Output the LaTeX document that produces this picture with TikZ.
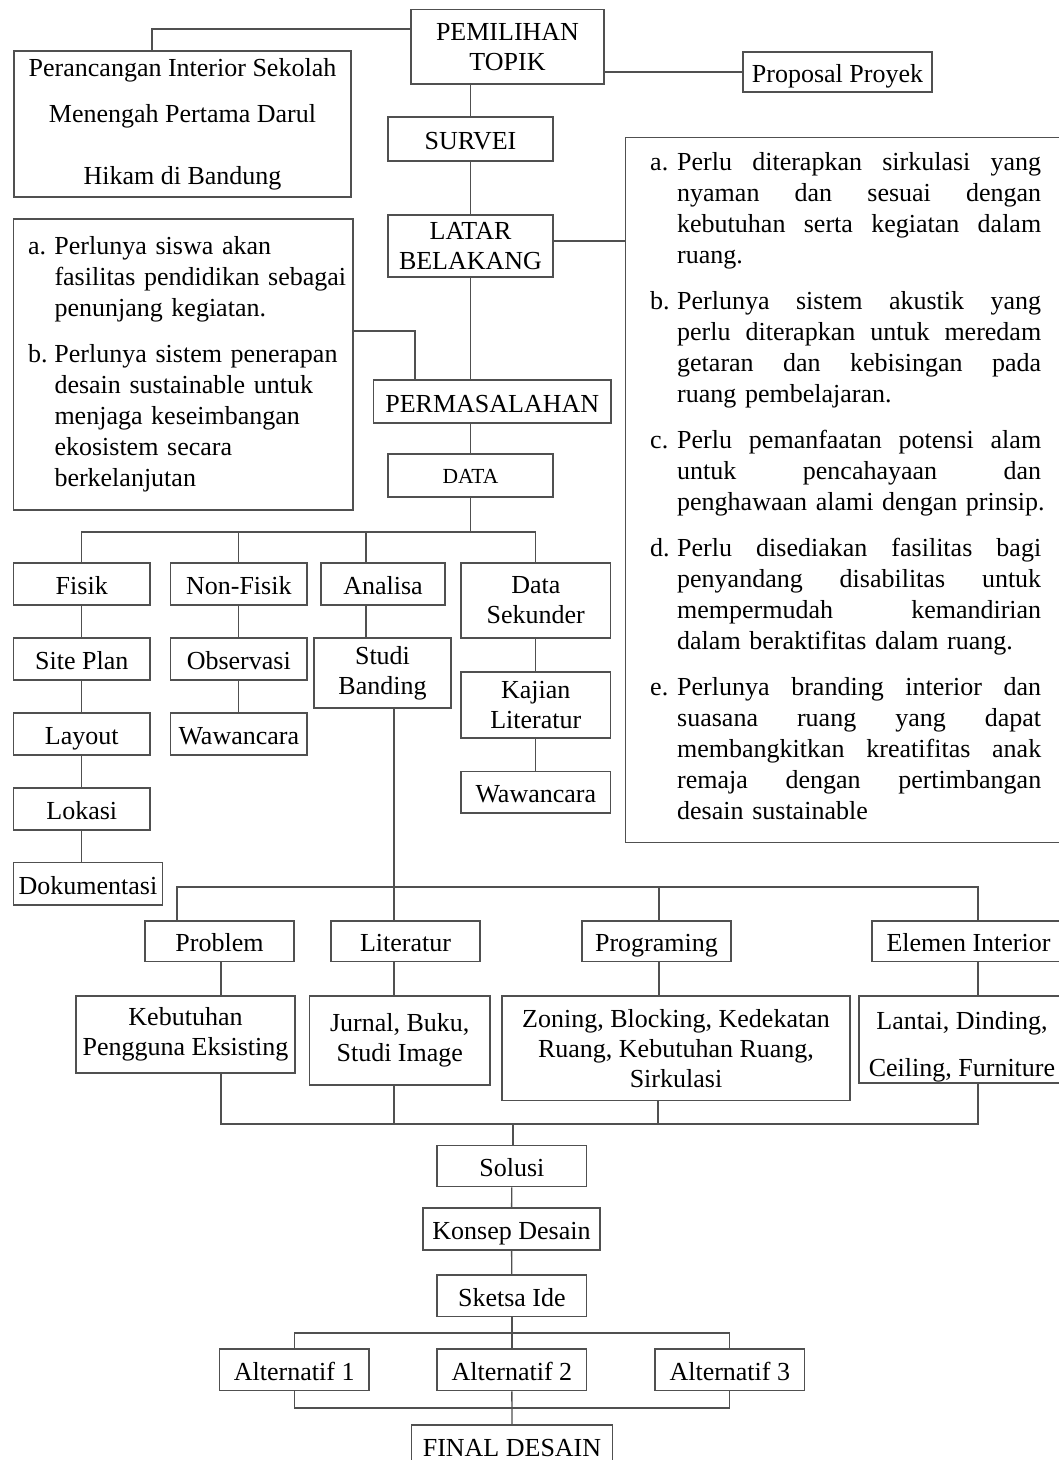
\documentclass[tikz,border=0pt]{standalone}
\usepackage{fontspec}
\setmainfont{Liberation Serif}
\definecolor{ln}{RGB}{80,80,80}
\newcommand\fsz{\fontsize{26pt}{30pt}\selectfont}
\newcommand\fsm{\fontsize{21.5pt}{25pt}\selectfont}
\newcommand\ptxt{\fontsize{26pt}{31pt}\selectfont\parindent=0pt\parskip=0pt}
\newcommand\hs{\hfill}
% right panel lines (justified lines are boxes of fixed width)
\newcommand\ritm[2]{\par\noindent\hbox to 27pt{#1\hss}\hbox to 364pt{#2}}
\newcommand\rjst[1]{\par\noindent\hspace*{27pt}\hbox to 364pt{#1}}
\newcommand\rlst[1]{\par\noindent\hspace*{27pt}\hbox{#1}}
% left panel lines
\newcommand\litm[2]{\par\noindent\hbox to 26.5pt{#1\hss}\hbox{#2}}
\newcommand\llin[1]{\par\noindent\hspace*{26.5pt}\hbox{#1}}
\newcommand\pgap{\par\vspace{15pt}}
\tikzset{
  bx/.style={draw=ln, line width=1.3pt, inner sep=0pt, align=center, font=\fsz, text=black},
  sl/.style={text height=21pt, text depth=0pt},
  wh/.style 2 args={minimum width=#1pt, minimum height=#2pt},
  cn/.style={draw=ln, line width=1.3pt},
  ptext/.style={anchor=north west, inner sep=0pt, font=\ptxt, text=black}
}
\begin{document}
\begin{tikzpicture}[x=1pt,y=-1pt]
\useasboundingbox (0,0) rectangle (1059,1460);
\fill[white] (0,0) rectangle (1059,1460);

% top part
\node[bx, wh={193}{74.5}] (topik) at (507.5,46.75) {PEMILIHAN\\TOPIK};
\node[bx, sl, wh={189}{40}] (proposal) at (837.5,72) {Proposal Proyek};
\node[bx, wh={337}{146}] (peran) at (182.5,124) {Perancangan Interior Sekolah\\[16pt]Menengah Pertama Darul\\[32pt]Hikam di Bandung};
\node[bx, sl, wh={165}{44}] (survei) at (470.5,139) {SURVEI};
\node[bx, wh={165}{62}] (latar) at (470.5,246) {LATAR\\BELAKANG};
\node[bx, sl, wh={237.5}{43}] (perm) at (492.25,401.5) {PERMASALAHAN};
\node[bx, wh={165}{43}, font=\fsm, text height=15.6pt, text depth=0pt] (data) at (470.5,475.5) {DATA};

% right panel
\node[bx, wh={440}{705}, anchor=north west] (rp) at (625,137) {};
\node[ptext, text width=391pt] (rptext) at (650,139) {%
\ritm{a.}{Perlu\hs{} diterapkan\hs{} sirkulasi\hs{} yang}
\rjst{nyaman\hs{} dan\hs{} sesuai\hs{} dengan}
\rjst{kebutuhan\hs{} serta\hs{} kegiatan\hs{} dalam}
\rlst{ruang.}\pgap
\ritm{b.}{Perlunya\hs{} sistem\hs{} akustik\hs{} yang}
\rjst{perlu\hs{} diterapkan\hs{} untuk\hs{} meredam}
\rjst{getaran\hs{} dan\hs{} kebisingan\hs{} pada}
\rlst{ruang pembelajaran.}\pgap
\ritm{c.}{Perlu\hs{} pemanfaatan\hs{} potensi\hs{} alam}
\rjst{untuk\hs{} pencahayaan\hs{} dan}
\rjst{penghawaan\hs{} alami\hs{} dengan\hs{} prinsip.}\pgap
\ritm{d.}{Perlu\hs{} disediakan\hs{} fasilitas\hs{} bagi}
\rjst{penyandang\hs{} disabilitas\hs{} untuk}
\rjst{mempermudah\hs{} kemandirian}
\rlst{dalam beraktifitas dalam ruang.}\pgap
\ritm{e.}{Perlunya\hs{} branding\hs{} interior\hs{} dan}
\rjst{suasana\hs{} ruang\hs{} yang\hs{} dapat}
\rjst{membangkitkan\hs{} kreatifitas\hs{} anak}
\rjst{remaja\hs{} dengan\hs{} pertimbangan}
\rlst{desain sustainable}};

% left panel
\node[bx, wh={339.5}{291}] (lp) at (183.25,364.5) {};
\node[ptext, text width=322pt] (lptext) at (27.8,223) {%
\litm{a.}{Perlunya siswa akan}
\llin{fasilitas pendidikan sebagai}
\llin{penunjang kegiatan.}\pgap
\litm{b.}{Perlunya sistem penerapan}
\llin{desain sustainable untuk}
\llin{menjaga keseimbangan}
\llin{ekosistem secara}
\llin{berkelanjutan}};

% data branches
\node[bx, sl, wh={136.5}{42}] (fisik) at (81.75,584) {Fisik};
\node[bx, sl, wh={136.4}{42}] (nonfisik) at (238.8,584) {Non-Fisik};
\node[bx, sl, wh={124}{42}] (analisa) at (383,584) {Analisa};
\node[bx, wh={149.6}{75}] (dsek) at (535.8,600.5) {Data\\Sekunder};
\node[bx, sl, wh={136.5}{42}] (siteplan) at (81.75,659) {Site Plan};
\node[bx, sl, wh={136.4}{42}] (observasi) at (238.8,659) {Observasi};
\node[bx, wh={137}{70}] (studi) at (382.5,673) {Studi\\Banding};
\node[bx, wh={149.6}{66}] (kajian) at (535.8,705) {Kajian\\Literatur};
\node[bx, sl, wh={136.5}{42}] (layout) at (81.75,734) {Layout};
\node[bx, sl, wh={136.4}{42}] (waw1) at (238.8,734) {Wawancara};
\node[bx, sl, wh={149.6}{41.3}] (waw2) at (535.8,792.4) {Wawancara};
\node[bx, sl, wh={136.5}{42}] (lokasi) at (81.75,809) {Lokasi};
\node[bx, sl, wh={148.9}{42.3}] (dok) at (87.95,883.85) {Dokumentasi};

% analysis row
\node[bx, sl, wh={149}{40.7}] (problem) at (219.5,941.35) {Problem};
\node[bx, sl, wh={149}{40.7}] (literatur) at (405.5,941.35) {Literatur};
\node[bx, sl, wh={149}{40.7}] (programing) at (656.5,941.35) {Programing};
\node[bx, sl, wh={193}{40.7}] (elemen) at (968.5,941.35) {Elemen Interior};
\node[bx, wh={219}{77}] (kebut) at (185.5,1034.5) {Kebutuhan\\Pengguna Eksisting};
\node[bx, wh={180.5}{89}] (jurnal) at (399.75,1040.5) {Jurnal, Buku,\\Studi Image};
\node[bx, wh={348}{104.7}] (zoning) at (676,1048.35) {Zoning, Blocking, Kedekatan\\Ruang, Kebutuhan Ruang,\\Sirkulasi};
\node[bx, wh={206}{87}] (lantai) at (962,1039.5) {\rule{0pt}{32pt}Lantai, Dinding,\\[17pt]Ceiling, Furniture};

% bottom
\node[bx, sl, wh={149.7}{41}] (solusi) at (511.85,1166.2) {Solusi};
\node[bx, sl, wh={177}{42}] (konsep) at (511.5,1229) {Konsep Desain};
\node[bx, sl, wh={149.7}{41.7}] (sketsa) at (511.85,1295.85) {Sketsa Ide};
\node[bx, sl, wh={149.5}{41.7}] (alt1) at (294.25,1369.85) {Alternatif 1};
\node[bx, sl, wh={149.7}{41.7}] (alt2) at (511.85,1369.85) {Alternatif 2};
\node[bx, sl, wh={149.6}{41.7}] (alt3) at (729.8,1369.85) {Alternatif 3};
\node[bx, sl, wh={200.6}{42}] (final) at (512,1446) {FINAL DESAIN};

% connectors - top
\draw[cn] (topik.west |- 0,29) -| ([xshift=-30.5pt]peran.north);
\draw[cn] (topik.east |- proposal.west) -- (proposal.west);
\draw[cn] (topik.south -| survei.north) -- (survei.north);
\draw[cn] (survei) -- (latar);
\draw[cn] (latar.south) -- (latar.south |- perm.north);
\draw[cn] (perm.south -| data.north) -- (data.north);
\draw[cn] (latar.east |- 0,241) -- (rp.west |- 0,241);
\draw[cn] (lp.east |- 0,331) -| (perm.north -| 415,0);

% connectors - data
\draw[cn] (data.south) -- (data.south |- 0,532);
\draw[cn] (fisik.north) -- (fisik.north |- 0,532) -- (dsek.north |- 0,532) -- (dsek.north);
\draw[cn] (nonfisik.north) -- (nonfisik.north |- 0,532);
\draw[cn] (analisa.north -| 366,0) -- (366,532);
\draw[cn] (fisik) -- (siteplan);
\draw[cn] (siteplan) -- (layout);
\draw[cn] (layout) -- (lokasi);
\draw[cn] (lokasi.south) -- (lokasi.south |- dok.north);
\draw[cn] (nonfisik) -- (observasi);
\draw[cn] (observasi) -- (waw1);
\draw[cn] (analisa.south -| 366,0) -- (studi.north -| 366,0);
\draw[cn] (dsek) -- (kajian);
\draw[cn] (kajian) -- (waw2);

% connectors - analysis
\draw[cn] (studi.south -| 394,0) -- (literatur.north -| 394,0);
\draw[cn] (problem.north -| 177,0) -- (177,887) -- (978,887) -- (elemen.north -| 978,0);
\draw[cn] (programing.north -| 659,0) -- (659,887);
\draw[cn] (problem.south -| 221,0) -- (kebut.north -| 221,0);
\draw[cn] (literatur.south -| 394,0) -- (jurnal.north -| 394,0);
\draw[cn] (programing.south -| 659,0) -- (zoning.north -| 659,0);
\draw[cn] (elemen.south -| 978,0) -- (lantai.north -| 978,0);
\draw[cn] (kebut.south -| 221,0) -- (221,1124) -- (978,1124) -- (lantai.south -| 978,0);
\draw[cn] (jurnal.south -| 394,0) -- (394,1124);
\draw[cn] (zoning.south -| 658,0) -- (658,1124);
\draw[cn] (solusi.north -| 513,0) -- (513,1124);

% connectors - bottom
\draw[cn] (solusi) -- (konsep);
\draw[cn] (konsep) -- (sketsa);
\draw[cn] (sketsa.south) -- (sketsa.south |- 0,1333);
\draw[cn] (alt1.north) -- (alt1.north |- 0,1333) -- (alt3.north |- 0,1333) -- (alt3.north);
\draw[cn] (alt2.north) -- (alt2.north |- 0,1333);
\draw[cn] (alt1.south) -- (alt1.south |- 0,1408) -- (alt3.south |- 0,1408) -- (alt3.south);
\draw[cn] (alt2.south) -- (final.north);
\end{tikzpicture}
\end{document}
